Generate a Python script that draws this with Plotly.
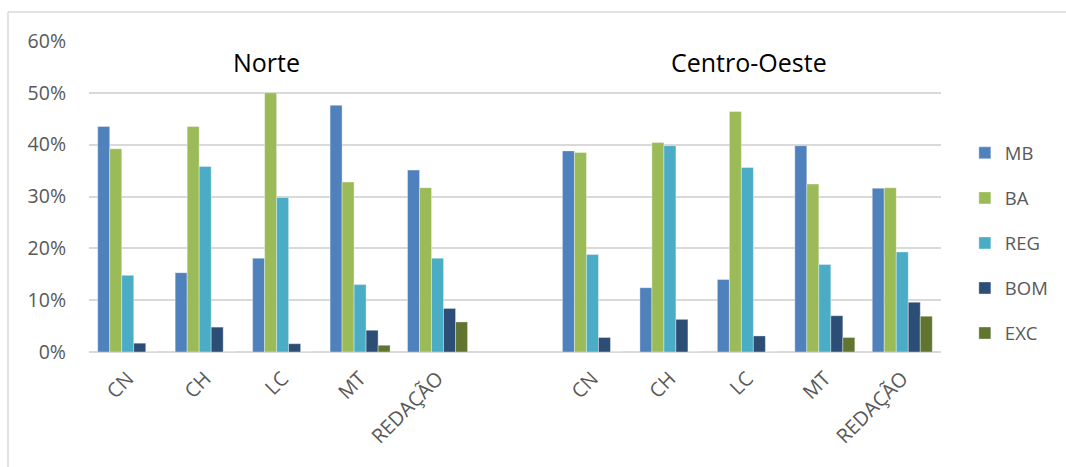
import plotly.graph_objects as go

# Subject areas shown for each region
areas = ["CN", "CH", "LC", "MT", "REDAÇÃO"]
regions = ["Norte", "Centro-Oeste"]

# Share of students per performance level (fraction), one list per level,
# Norte first (5 areas) then Centro-Oeste (5 areas)
mb = [0.435, 0.153, 0.181, 0.476, 0.351, 0.388, 0.124, 0.140, 0.398, 0.316]
ba = [0.392, 0.435, 0.500, 0.328, 0.317, 0.385, 0.404, 0.464, 0.324, 0.317]
reg = [0.148, 0.358, 0.298, 0.130, 0.181, 0.188, 0.398, 0.356, 0.169, 0.193]
bom = [0.017, 0.048, 0.016, 0.042, 0.084, 0.028, 0.063, 0.031, 0.070, 0.096]
exc = [0.0, 0.0, 0.0, 0.013, 0.058, 0.0, 0.0, 0.0, 0.028, 0.069]

levels = ["MB", "BA", "REG", "BOM", "EXC"]
values = [mb, ba, reg, bom, exc]
colors = ["#4f81bd", "#9bbb59", "#4bacc6", "#2c4d75", "#5f7530"]

# Two blocks of areas separated by one empty slot
n = len(areas)
positions = list(range(n)) + [n + 1 + i for i in range(n)]
tick_text = areas + areas

fig = go.Figure()
for name, vals, col in zip(levels, values, colors):
    fig.add_trace(go.Bar(
        x=positions, y=vals, name=name, legendgroup=name,
        marker=dict(color=col, line=dict(color="rgba(255,255,255,0.6)", width=0.6)),
    ))

grid = "#d9d9d9"
ytick_font = dict(family="Open Sans, sans-serif", size=19.5, color="#595959")
xtick_font = dict(family="Open Sans, sans-serif", size=20, color="#595959")

fig.update_layout(
    width=1066, height=467,
    margin=dict(l=89, r=125, t=41, b=115),
    paper_bgcolor="white", plot_bgcolor="white",
    barmode="group", bargap=0.225, bargroupgap=0,
    showlegend=True,
    legend=dict(
        x=1.028, y=0.70, xanchor="left", yanchor="top",
        font=dict(family="Open Sans, sans-serif", size=18.5, color="#595959"),
        tracegroupgap=18, itemwidth=30, bgcolor="rgba(0,0,0,0)",
    ),
    xaxis=dict(
        range=[-0.5, 2 * n + 0.5], tickvals=positions, ticktext=tick_text,
        tickangle=-45, tickfont=xtick_font, showgrid=False, zeroline=False,
        showline=False, ticks="", ticklabelstandoff=10,
    ),
    yaxis=dict(
        range=[0, 0.6], dtick=0.1, tickformat=".0%", tickfont=ytick_font,
        showgrid=True, gridcolor=grid, gridwidth=1.5, zeroline=True,
        zerolinecolor=grid, zerolinewidth=1.5, ticks="", ticklabelstandoff=22,
    ),
    font=dict(family="Open Sans, sans-serif"),
)

# Region headings above each block
for label, xp in zip(regions, [(266 - 89) / 852, (749 - 89) / 852]):
    fig.add_annotation(
        x=xp, y=(352 - 62) / 311, xref="paper", yref="paper",
        text=label, showarrow=False, xanchor="center", yanchor="middle",
        font=dict(family="Open Sans, sans-serif", size=25, color="#000000"),
    )

# Chart-area frame (top and left edges)
fx, fy = (8 - 89) / 852, (352 - 12) / 311
fig.add_shape(type="line", xref="paper", yref="paper",
              x0=fx, y0=fy, x1=1.2, y1=fy, line=dict(color=grid, width=1.5))
fig.add_shape(type="line", xref="paper", yref="paper",
              x0=fx, y0=fy, x1=fx, y1=-0.5, line=dict(color=grid, width=1.5))

fig.write_html("out.html")
